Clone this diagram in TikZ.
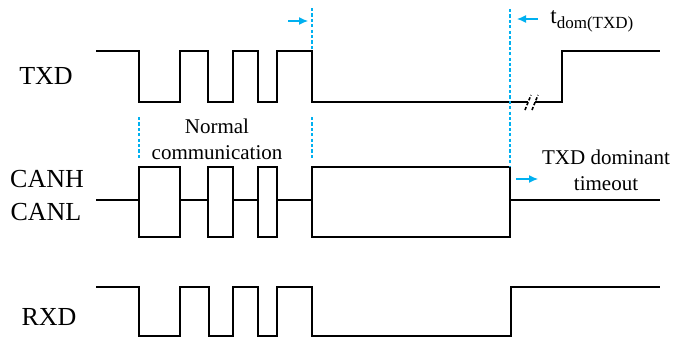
\documentclass[tikz,border=0pt]{standalone}
\usepackage{fontspec}
\setmainfont{Liberation Serif}
\usetikzlibrary{arrows.meta}
\definecolor{guideblue}{RGB}{0,176,240}
\tikzset{
  sig/.style={line width=1.1pt, line join=miter, black},
  guide/.style={guideblue, line width=0.75pt, dash pattern=on 1.6pt off 1.1pt},
  bluearrow/.style={guideblue, line width=0.6pt, -{Latex[length=4.5pt,width=4pt]}},
  breakmark/.style={black, line width=0.8pt, dash pattern=on 1.6pt off 1pt},
  siglabel/.style={font=\fontsize{13}{13}\selectfont, inner sep=0pt},
  note/.style={font=\fontsize{10.5}{13}\selectfont, align=center, inner sep=0pt}
}
\begin{document}
\begin{tikzpicture}[x=0.5pt, y=-0.5pt]
\useasboundingbox (0,0) rectangle (675,338);
% labels
\node[siglabel] (txd) at (46,76) {TXD};
\node[siglabel] (canh) at (47,179) {CANH};
\node[siglabel] (canl) at (46,212) {CANL};
\node[siglabel] (rxd) at (49,317) {RXD};
\node[note] (normal) at (217,139) {Normal\\communication};
\node[note] (timeout) at (606,170) {TXD dominant\\timeout};
\node[anchor=west, inner sep=0pt] (tdom) at (550,21) {{\fontsize{11.5}{12}\selectfont t}{\fontsize{8.5}{9}\selectfont\raisebox{-2.6pt}{dom(TXD)}}};
% TXD waveform
\draw[sig] (96,51) -| (139,102) -| (180,51) -| (208,102) -| (233,51) -| (258,102) -| (277,51) -| (312,102) -- (528,102);
\draw[sig] (535,102) -| (562,51) -- (660,51);
\draw[breakmark] (525,110) -- (531,95);
\draw[breakmark] (532,110) -- (538,95);
% CANH / CANL
\draw[sig] (96,200) -- (139,200);
\draw[sig] (139,167) rectangle (180,237);
\draw[sig] (180,200) -- (208,200);
\draw[sig] (208,167) rectangle (233,237);
\draw[sig] (233,200) -- (258,200);
\draw[sig] (258,167) rectangle (277,237);
\draw[sig] (277,200) -- (312,200);
\draw[sig] (312,167) rectangle (510,237);
\draw[sig] (510,200) -- (660,200);
% RXD waveform
\draw[sig] (96,287) -| (139,336) -| (180,287) -| (209,336) -| (233,287) -| (258,336) -| (277,287) -| (312,336) -| (511,287) -- (660,287);
% guides
\coordinate (g1top) at (312,8);
\coordinate (g1bot) at (312,50);
\coordinate (g2top) at (510,9);
\coordinate (g2bot) at (510,166);
\coordinate (n1top) at (139,117);
\coordinate (n1bot) at (139,158);
\coordinate (n2top) at (312,117);
\coordinate (n2bot) at (312,158);
\draw[guide] (g1top) -- (g1bot);
\draw[guide] (g2top) -- (g2bot);
\draw[guide] (n1top) -- (n1bot);
\draw[guide] (n2top) -- (n2bot);
% arrows
\coordinate (a1s) at (288,21);
\coordinate (a1e) at (308,21);
\coordinate (a2s) at (538,19);
\coordinate (a2e) at (517,19);
\coordinate (a3s) at (516,179);
\coordinate (a3e) at (538,179);
\draw[bluearrow] (a1s) -- (a1e);
\draw[bluearrow] (a2s) -- (a2e);
\draw[bluearrow] (a3s) -- (a3e);
\end{tikzpicture}
\end{document}
